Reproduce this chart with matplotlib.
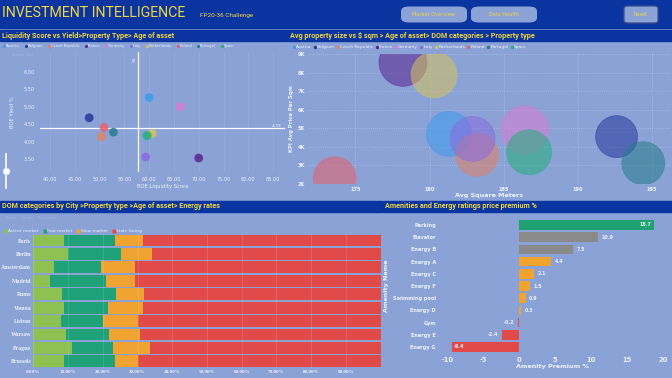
import numpy as np
import matplotlib
matplotlib.use("Agg")
import matplotlib.pyplot as plt
from matplotlib.patches import Rectangle, FancyBboxPatch
from matplotlib.lines import Line2D

plt.rcParams["axes.unicode_minus"] = False

W, H = 672, 378

HEADER = "#0A34A0"
PANEL = "#8AA2D6"
YELLOW = "#F2D740"
TXT = "#EEF2FB"
TITLE_FONT = ["Roboto", "DejaVu Sans"]

# ---- data ----
countries = ["Austria", "Belgium", "Czech Republic", "France", "Germany",
             "Italy", "Netherlands", "Poland", "Portugal", "Spain"]
country_colors = ["#3D9BEF", "#25389A", "#E58163", "#5A2490", "#D97AD5",
                  "#8A6AE0", "#D8C35A", "#E8606A", "#277C8C", "#22B07A"]

# liquidity score vs yield
liquidity = [60.0, 47.9, 50.4, 70.0, 66.3, 59.3, 60.6, 50.9, 52.8, 59.6]
yield_pct = [5.27, 4.69, 4.15, 3.54, 5.01, 3.57, 4.24, 4.41, 4.28, 4.18]
avg_liquidity = 57.8
avg_yield = 4.39

# avg size vs price per sqm
avg_sqm = [181.3, 192.6, 183.2, 178.2, 186.4, 182.9, 180.3, 173.6, 194.4, 186.7]
price_sqm = [4700, 4550, 3570, 8550, 4910, 4430, 7880, 2310, 3120, 3710]
size_measure = [22.5, 21.0, 21.5, 24.0, 24.0, 22.5, 23.0, 21.5, 21.5, 22.5]

# DOM categories by city (% of listings)
cities = ["Paris", "Berlin", "Amsterdam", "Madrid", "Rome", "Vienna",
          "Lisbon", "Warsaw", "Prague", "Brussels"]
active = [8.9, 10.1, 6.1, 4.8, 8.3, 8.7, 8.0, 9.5, 11.0, 8.9]
fast = [14.7, 15.2, 13.5, 16.2, 15.4, 12.9, 12.1, 12.4, 11.9, 14.6]
slow = [7.9, 8.8, 9.6, 8.4, 8.1, 9.9, 10.0, 8.8, 10.6, 6.7]
stale = [100 - a - f - s for a, f, s in zip(active, fast, slow)]
dom_labels = ["Active market", "Fast market", "Slow market", "Stale listing"]
dom_colors = ["#8DC253", "#1FA179", "#F0A331", "#E24A4A"]

# amenity premium
amenities = ["Parking", "Elevator", "Energy B", "Energy A", "Energy C", "Energy F",
             "Swimming pool", "Energy D", "Gym", "Energy E", "Energy G"]
premium = [18.7, 10.9, 7.5, 4.4, 2.1, 1.5, 0.9, 0.3, -0.2, -2.4, -9.4]
premium_colors = ["#1FA172", "#8A8A8A", "#8A8A8A", "#F0A331", "#F0A331", "#F0A331",
                  "#F0A331", "#F0A331", "#E24A4A", "#E24A4A", "#E24A4A"]


def box(x0, y0, x1, y1):
    return [x0 / W, 1 - y1 / H, (x1 - x0) / W, (y1 - y0) / H]


def fx(x):
    return x / W


def fy(y):
    return 1 - y / H


fig = plt.figure(figsize=(6.72, 3.78), dpi=100, facecolor=PANEL)

# header
fig.patches.append(Rectangle((0, fy(28)), 1, 28 / H, transform=fig.transFigure,
                             color=HEADER, zorder=0))
fig.text(fx(2), fy(13), "INVESTMENT INTELLIGENCE", color=YELLOW, fontsize=10.2,
         family=TITLE_FONT, va="center", ha="left")
fig.text(fx(200), fy(15), "FP20-36 Challenge", color=YELLOW, fontsize=4.6,
         family=TITLE_FONT, va="center", ha="left")
for (x0, x1, label) in [(401, 467, "Market Overview"), (471, 537, "Data Health")]:
    fig.patches.append(FancyBboxPatch((fx(x0), fy(22.5)), (x1 - x0) / W, 16 / H,
                                      boxstyle="round,pad=0,rounding_size=0.012",
                                      transform=fig.transFigure, fc="#8AA2D6",
                                      ec="none", zorder=1))
    fig.text(fx((x0 + x1) / 2), fy(15), label, color=YELLOW, fontsize=3.6,
             ha="center", va="center", zorder=2)
fig.patches.append(FancyBboxPatch((fx(624), fy(23)), 34 / W, 17 / H,
                                  boxstyle="round,pad=0,rounding_size=0.006",
                                  transform=fig.transFigure, fc="#8AA2D6",
                                  ec="#3A4E8A", lw=0.9, zorder=1))
fig.text(fx(641), fy(14.5), "Reset", color=YELLOW, fontsize=3.6,
         ha="center", va="center", zorder=2)

# panel title bars
titles = [
    ((0, 30, 287, 41), "Liquidity Score vs Yield>Property Type> Age of asset"),
    ((288, 30, 672, 41), "Avg property size vs $ sqm > Age of asset> DOM categories > Property type"),
    ((0, 201, 382, 212), "DOM categories by City >Property type >Age of asset> Energy rates"),
    ((383, 201, 672, 212), "Amenities and Energy ratings price premium %"),
]
for (x0, y0, x1, y1), t in titles:
    fig.patches.append(Rectangle((fx(x0), fy(y1)), (x1 - x0) / W, (y1 - y0) / H,
                                 transform=fig.transFigure, color=HEADER, zorder=0))
    fig.text(fx(x0 + 2), fy((y0 + y1) / 2), t, color=YELLOW, fontsize=5.25,
             fontweight="bold", family=TITLE_FONT, ha="left", va="center")

tick_kw = dict(colors=TXT, length=0, labelsize=3.6)

# ---- liquidity vs yield scatter ----
ax1 = fig.add_axes(box(40, 52, 285, 172))
ax1.set_facecolor("none")
ax1.scatter(liquidity, yield_pct, s=40, c=country_colors, alpha=0.85, lw=0, zorder=3)
ax1.axvline(avg_liquidity, color="white", lw=0.9, zorder=2)
ax1.axhline(avg_yield, color="white", lw=0.9, zorder=2)
ax1.set_xlim(37.98, 87.4)
ax1.set_ylim(3.14, 6.57)
ax1.set_xticks(np.arange(40, 86, 5))
ax1.set_xticklabels([f"{v:.2f}" for v in np.arange(40, 86, 5)])
ax1.set_yticks(np.arange(3.5, 6.01, 0.5))
ax1.set_yticklabels([f"{v:.2f}" for v in np.arange(3.5, 6.01, 0.5)])
ax1.tick_params(**tick_kw)
ax1.grid(axis="x", color="white", alpha=0.12, lw=0.5)
for s in ax1.spines.values():
    s.set_visible(False)
ax1.set_xlabel("BOE Liquidity Score", color=TXT, fontsize=3.8, labelpad=1.5)
ax1.set_ylabel("BOE Yield %", color=TXT, fontsize=3.8, labelpad=6)
ax1.text(0.985, avg_yield, f"{avg_yield:.2f}", transform=ax1.get_yaxis_transform(),
         color=TXT, fontsize=3.2, ha="right", va="bottom")
ax1.text(avg_liquidity - 0.4, 0.96, f"{avg_liquidity:.0f}", transform=ax1.get_xaxis_transform(),
         color=TXT, fontsize=3.2, ha="right", va="top", rotation=90)
fig.text(fx(12), fy(55), "Zoom Out", color="#A8B8E0", fontsize=3.2, va="center")
# slider
fig.add_artist(Line2D([fx(5.5), fx(5.5)], [fy(154), fy(188)], color="white", lw=1.2))
fig.add_artist(Line2D([fx(5.5)], [fy(171)], marker="o", ms=5, mfc="white",
                      mec="#C8D2EA", mew=0.5))

handles = [Line2D([], [], marker="o", ls="", ms=2.2, mfc=c, mec="none") for c in country_colors]
fig.legend(handles, countries, loc="upper left", bbox_to_anchor=(fx(1), fy(42.5)),
           ncol=10, frameon=False, fontsize=2.7, handletextpad=0.15,
           columnspacing=1.1, borderpad=0, handlelength=0.8, labelcolor=TXT)

# ---- bubble chart ----
ax2 = fig.add_axes(box(308, 54, 670, 184))
ax2.set_facecolor("none")
bubble_s = [(2 * r * 0.72) ** 2 for r in size_measure]
ax2.scatter(avg_sqm, price_sqm, s=bubble_s, c=country_colors, alpha=0.55,
            edgecolors=country_colors, lw=0.5, zorder=3)
ax2.set_xlim(171.8, 196.2)
ax2.set_ylim(2000, 9000)
ax2.set_xticks([175, 180, 185, 190, 195])
ax2.set_yticks(np.arange(2000, 9001, 1000))
ax2.set_yticklabels([f"{v // 1000}K" for v in np.arange(2000, 9001, 1000)])
ax2.tick_params(colors=TXT, length=0, labelsize=3.6, pad=2)
for lbl in ax2.get_xticklabels() + ax2.get_yticklabels():
    lbl.set_fontweight("bold")
ax2.grid(axis="y", color="white", alpha=0.45, lw=0.5, ls=(0, (1, 2)))
ax2.grid(axis="x", color="white", alpha=0.15, lw=0.5)
for s in ax2.spines.values():
    s.set_visible(False)
ax2.set_xlabel("Avg Square Meters", color=TXT, fontsize=4.6, fontweight="bold", labelpad=1)
ax2.set_ylabel("KPI Avg Price Per Sqm", color=TXT, fontsize=3.8, fontweight="bold", labelpad=3)
handles = [Line2D([], [], marker="o", ls="", ms=2.4, mfc=c, mec="none") for c in country_colors]
fig.legend(handles, countries, loc="upper left", bbox_to_anchor=(fx(290), fy(43)),
           ncol=10, frameon=False, fontsize=3.2, handletextpad=0.05,
           columnspacing=0.35, borderpad=0, handlelength=0.8, labelcolor=TXT)

# ---- DOM stacked bars ----
ax3 = fig.add_axes(box(33.3, 233.8, 380.7, 368))
ax3.set_facecolor("none")
y = np.arange(len(cities))
left = np.zeros(len(cities))
for vals, lab, col in zip([active, fast, slow, stale], dom_labels, dom_colors):
    ax3.barh(y, vals, left=left, height=0.88, color=col, label=lab, zorder=2)
    left += np.array(vals)
ax3.set_xlim(0, 100)
ax3.set_ylim(len(cities) - 0.5, -0.5)
ax3.set_yticks(y)
ax3.set_yticklabels(cities)
ax3.set_xticks(np.arange(0, 91, 10))
ax3.set_xticklabels([f"{v:.2f}%" for v in np.arange(0, 91, 10)])
ax3.tick_params(axis="x", colors=TXT, length=0, labelsize=3.6, pad=1.5)
ax3.tick_params(axis="y", colors=TXT, length=0, labelsize=4.2, pad=1.5)
for lbl in ax3.get_xticklabels() + ax3.get_yticklabels():
    lbl.set_fontweight("bold")
    lbl.set_family(["Liberation Serif", "DejaVu Serif"])
ax3.grid(axis="x", color="white", alpha=0.18, lw=0.5, zorder=3)
ax3.set_axisbelow(False)
for s in ax3.spines.values():
    s.set_visible(False)
fig.text(fx(6), fy(218), "Back    Zoom    Features", color="#A8B8E0", fontsize=3, va="center")
handles = [Line2D([], [], marker="s", ls="", ms=2.2, mfc=c, mec="none") for c in dom_colors]
fig.legend(handles, dom_labels, loc="upper left", bbox_to_anchor=(fx(2), fy(227)),
           ncol=4, frameon=False, fontsize=3.2, handletextpad=0.15,
           columnspacing=0.9, borderpad=0, handlelength=0.8, labelcolor=TXT)

# ---- amenity premium ----
ax4 = fig.add_axes(box(440, 218.9, 666, 353.1))
ax4.set_facecolor("none")
ya = np.arange(len(amenities))
ax4.barh(ya, premium, height=0.8, color=premium_colors, zorder=2)
ax4.set_xlim(-11.0, 20.4)
ax4.set_ylim(len(amenities) - 0.5, -0.5)
ax4.set_yticks(ya)
ax4.set_yticklabels(amenities)
ax4.set_xticks([-10, -5, 0, 5, 10, 15, 20])
ax4.tick_params(axis="y", colors=TXT, length=0, labelsize=3.6, pad=3)
ax4.tick_params(axis="x", colors=TXT, length=0, labelsize=4.8, pad=2.5)
for lbl in ax4.get_xticklabels() + ax4.get_yticklabels():
    lbl.set_fontweight("bold")
for s in ax4.spines.values():
    s.set_visible(False)
for i, v in enumerate(premium):
    if v == max(premium):
        ax4.text(v - 0.4, i, f"{v:.1f}", color=TXT, fontsize=3.4, ha="right", va="center", fontweight="bold")
    elif v == min(premium):
        ax4.text(v + 0.3, i, f"{v:.1f}", color=TXT, fontsize=3.4, ha="left", va="center", fontweight="bold")
    elif v >= 0:
        ax4.text(v + 0.5, i, f"{v:.1f}", color=TXT, fontsize=3.4, ha="left", va="center", fontweight="bold")
    else:
        ax4.text(v - 0.5, i, f"{v:.1f}", color=TXT, fontsize=3.4, ha="right", va="center", fontweight="bold")
ax4.set_xlabel("Amenity Premium %", color=TXT, fontsize=4.6, fontweight="bold", labelpad=1)
ax4.set_ylabel("Amenity Name", color=TXT, fontsize=4.6, fontweight="bold", labelpad=3)

fig.savefig("out.png", dpi=100, facecolor=PANEL)
